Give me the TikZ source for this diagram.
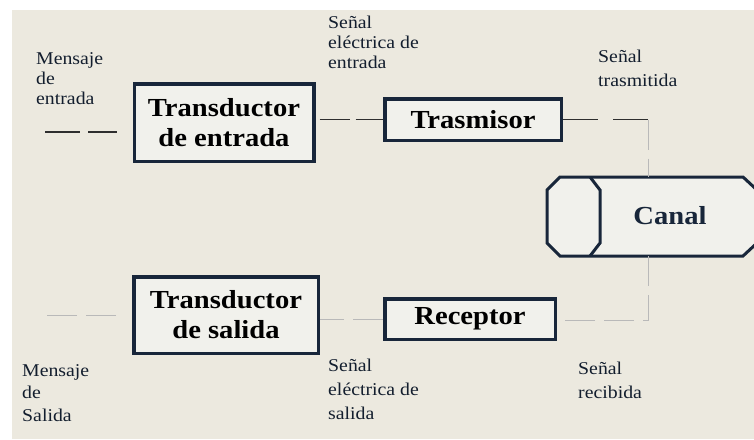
\documentclass[tikz,border=0pt]{standalone}
\usepackage{fontspec}
\setmainfont{Liberation Serif}[FakeStretch=1.1]
\definecolor{paper}{HTML}{ECE9DF}
\definecolor{boxfill}{HTML}{F1F1EC}
\definecolor{navy}{HTML}{18263A}
\definecolor{wire}{HTML}{2E2E2E}
\tikzset{
  block/.style={draw=navy,line width=3.5pt,fill=boxfill,align=center,inner sep=0pt,
    font=\bfseries\fontsize{26}{30}\selectfont},
  tag/.style={anchor=north west,align=left,inner sep=0pt,text=navy!80!black,
    font=\fontsize{18}{20}\selectfont},
  link/.style={draw=wire,line width=1.6pt,dash pattern=on 30pt off 6pt},
  faint/.style={draw=gray!55,line width=0.6pt,dash pattern=on 30pt off 9pt}
}
\begin{document}
\begin{tikzpicture}[x=1pt,y=-1pt]
\useasboundingbox (0,0) rectangle (754,439);
\fill[paper] (12,10) rectangle (754,439);
% blocks
\node at (224,122.5) [block,minimum width=179.5pt,minimum height=77.5pt] (te) {Transductor\\de entrada};
\node at (473,119.5) [block,minimum width=176.5pt,minimum height=41.5pt] (tr) {Trasmisor};
\node at (226,315) [block,minimum width=184.5pt,minimum height=76.5pt] (ts) {Transductor\\de salida};
\node at (470,319) [block,minimum width=170.5pt,minimum height=40.5pt] (rx) {Receptor};
% channel
\draw[navy,line width=3pt,fill=boxfill] (560,177) -- (547,190) -- (547,243) -- (560,256)
  -- (743,256) -- (757,243) -- (757,190) -- (743,177) -- cycle;
\draw[navy,line width=3pt] (590,177) -- (600,190) -- (600,243) -- (590,256);
\node at (670,216) [font=\bfseries\fontsize{26}{30}\selectfont,text=navy] (canal) {Canal};
\coordinate (ctop) at (648,177);
\coordinate (cbot) at (648,256);
% labels
\node at (36,52) [tag] (min) {Mensaje\\de\\entrada};
\node at (328,16) [tag] (sein) {Señal\\eléctrica de\\entrada};
\node at (598,50) [tag,font=\fontsize{18}{24}\selectfont] (stx) {Señal\\trasmitida};
\node at (22,364) [tag,font=\fontsize{18}{22.5}\selectfont] (mout) {Mensaje\\de\\Salida};
\node at (328,359) [tag,font=\fontsize{18}{24}\selectfont] (seout) {Señal\\eléctrica de\\salida};
\node at (578,362) [tag,font=\fontsize{18}{24}\selectfont] (srx) {Señal\\recibida};
% connectors
\coordinate (inL) at (45,132);
\coordinate (outL) at (45,315);
\coordinate (turn1) at (648,119.5);
\coordinate (turn2) at (648,320);
\draw[link,line width=2.5pt,dash pattern=on 35pt off 8pt,shorten >=16pt] (inL) -- (te.west |- inL);
\draw[link,shorten <=4pt] (te.east |- tr.west) -- (tr.west);
\draw[link,dash pattern=on 35pt off 15pt] (tr.east) -- (turn1);
\draw[faint] (turn1) -- (ctop);
\draw[faint] (cbot) -- (turn2) -- (rx.east |- turn2);
\draw[faint] (rx.west) -- (ts.east |- rx.west);
\draw[faint,shorten <=16pt] (ts.west) -- (outL);
\end{tikzpicture}
\end{document}
